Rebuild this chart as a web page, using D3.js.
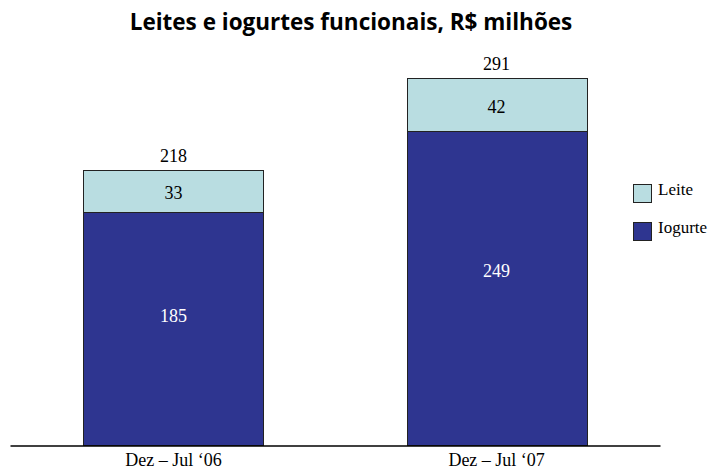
<!DOCTYPE html>
<html>
<head>
<meta charset="utf-8">
<script src="https://cdn.jsdelivr.net/npm/d3@7"></script>
<style>
  body { margin: 0; background: #fff; }
  .title { font-family: "Open Sans", sans-serif; font-weight: bold; font-size: 22.5px; }
  .lbl { font-family: "Liberation Serif", "Times New Roman", serif; font-size: 18px; }
  .axis text { font-family: "Liberation Serif", "Times New Roman", serif; font-size: 18px; fill: #000; }
</style>
</head>
<body>
<svg width="709" height="470"></svg>
<script>
// data
var categories = ["Dez \u2013 Jul \u201806", "Dez \u2013 Jul \u201807"];
var iogurte = [185, 249];
var leite = [33, 42];
var totals = [218, 291];
var seriesNames = ["Leite", "Iogurte"];

var svg = d3.select("svg");

var colors = { Leite: "#b9dde1", Iogurte: "#2e3590" };

// x scale
var x = d3.scaleBand()
    .domain(categories)
    .range([10, 660])
    .paddingInner(0.443)
    .paddingOuter(0.227);

// y scale (baseline at 445)
var y = d3.scaleLinear().domain([0, 291]).range([445, 78]);

var rows = categories.map(function(c, i) {
    return { cat: c, Iogurte: iogurte[i], Leite: leite[i], total: totals[i] };
});

var stack = d3.stack().keys(["Iogurte", "Leite"]);
var layers = stack(rows);

svg.append("text")
    .attr("class", "title")
    .attr("x", 351)
    .attr("y", 30)
    .attr("text-anchor", "middle")
    .text("Leites e iogurtes funcionais, R$ milhões");

var g = svg.append("g");

layers.forEach(function(layer) {
    // label sits a bit above the middle in the big segments
    var frac = layer.key === "Iogurte" ? 0.44 : 0.5;

    g.selectAll(null)
        .data(layer)
        .enter()
        .append("rect")
            .attr("x", function(d) { return Math.round(x(d.data.cat)) + 0.5; })
            .attr("y", function(d) { return Math.round(y(d[1])) + 0.5; })
            .attr("width", Math.round(x.bandwidth()))
            .attr("height", function(d) { return Math.round(y(d[0])) - Math.round(y(d[1])); })
            .attr("fill", colors[layer.key])
            .attr("stroke", "#222")
            .attr("stroke-width", 1);

    g.selectAll(null)
        .data(layer)
        .enter()
        .append("text")
            .attr("class", "lbl")
            .attr("x", function(d) { return x(d.data.cat) + x.bandwidth() / 2; })
            .attr("y", function(d) { return y(d[1]) + frac * (y(d[0]) - y(d[1])); })
            .attr("dy", "0.45em")
            .attr("text-anchor", "middle")
            .attr("fill", layer.key === "Iogurte" ? "#fff" : "#000")
            .text(function(d) { return d.data[layer.key]; });
});

// totals
g.selectAll(".total")
    .data(rows)
    .enter()
    .append("text")
        .attr("class", "lbl total")
        .attr("x", function(d) { return x(d.cat) + x.bandwidth() / 2; })
        .attr("y", function(d) { return y(d.total) - 8; })
        .attr("text-anchor", "middle")
        .text(function(d) { return d.total; });

// axis
var axis = svg.append("g")
    .attr("class", "axis")
    .attr("transform", "translate(0,445.5)")
    .call(d3.axisBottom(x).tickSize(0).tickSizeOuter(0).tickPadding(8));
axis.select(".domain").attr("stroke", "#000").attr("stroke-width", 1.5);

// legend
var legend = svg.append("g").attr("transform", "translate(633,184)");
seriesNames.forEach(function(name, i) {
    legend.append("rect")
        .attr("x", 0.5)
        .attr("y", i * 38 + 0.5)
        .attr("width", 18)
        .attr("height", 18)
        .attr("fill", colors[name])
        .attr("stroke", "#222");
    legend.append("text")
        .attr("class", "lbl")
        .style("font-size", "17px")
        .attr("x", 25)
        .attr("y", i * 38 + 11)
        .text(name);
});
</script>
</body>
</html>
